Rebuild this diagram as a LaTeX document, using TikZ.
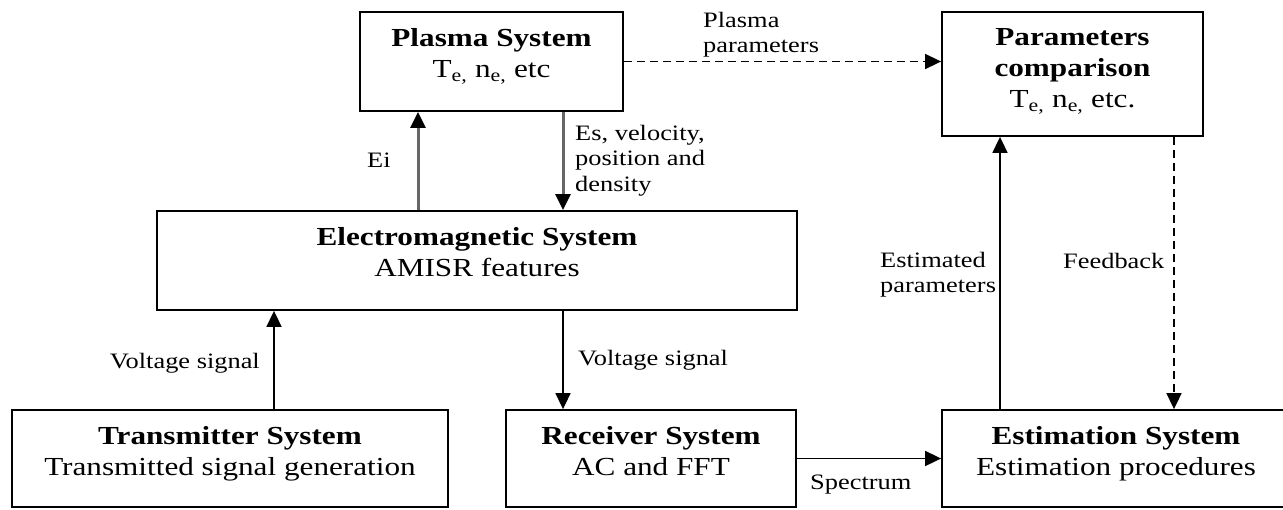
\documentclass[tikz,border=0pt]{standalone}
\usepackage{fontspec}
\setmainfont{Liberation Serif}[FakeStretch=1.2]
\usetikzlibrary{arrows.meta}
\begin{document}
\begin{tikzpicture}[x=1pt,y=-1pt,
  box/.style={draw, line width=1.8pt, inner sep=0pt},
  ttl/.style={anchor=north, align=center, inner sep=0pt, font=\fontsize{26}{31}\selectfont},
  lbl/.style={inner sep=0pt, font=\fontsize{22}{25.5}\selectfont, align=left},
  arr/.style={line width=1.7pt, -{Triangle[length=16pt,width=15pt]}},
  garr/.style={draw=black!60, line width=3pt, -{Triangle[length=16pt,width=15pt,color=black]}},
  dsh/.style={arr, dash pattern=on 8pt off 5pt}]
\fill[white] (0,0) rectangle (1283,509);
\useasboundingbox (0,0) rectangle (1283,509);
% boxes
\node[box, minimum width=263pt, minimum height=99pt] (plasma) at (491.5,61.5) {};
\node[box, minimum width=261pt, minimum height=124pt] (params) at (1072.5,74) {};
\node[box, minimum width=640pt, minimum height=99pt] (em) at (477,260.5) {};
\node[box, minimum width=436pt, minimum height=97pt] (trans) at (230,458.5) {};
\node[box, minimum width=290pt, minimum height=97pt] (recv) at (651,458.5) {};
\node[box, minimum width=348pt, minimum height=97pt] (est) at (1116,458.5) {};
% box texts
\node[ttl] (plasmaT) at ([yshift=-17pt]plasma.north) {\textbf{Plasma System}\\T\textsubscript{e,} n\textsubscript{e,} etc};
\node[ttl] (paramsT) at ([yshift=-17pt]params.north) {\textbf{Parameters}\\\textbf{comparison}\\T\textsubscript{e,} n\textsubscript{e,} etc.};
\node[ttl] (emT) at ([yshift=-17pt]em.north) {\textbf{Electromagnetic System}\\AMISR features};
\node[ttl] (transT) at ([yshift=-17pt]trans.north) {\textbf{Transmitter System}\\Transmitted signal generation};
\node[ttl] (recvT) at ([yshift=-17pt]recv.north) {\textbf{Receiver System}\\AC and FFT};
\node[ttl] (estT) at ([yshift=-17pt]est.north) {\textbf{Estimation System}\\Estimation procedures};
% connectors
\draw[garr] (418,0 |- em.north) -- (418,0 |- plasma.south);
\draw[garr] (563,0 |- plasma.south) -- (563,0 |- em.north);
\draw[dsh] (plasma.east) -- (plasma.east -| params.west);
\draw[arr] (274,0 |- trans.north) -- (274,0 |- em.south);
\draw[arr] (563,0 |- em.south) -- (563,0 |- recv.north);
\draw[arr] (recv.east) -- (est.west);
\draw[arr] (1000,0 |- est.north) -- (1000,0 |- params.south);
\draw[dsh] (1174,0 |- params.south) -- (1174,0 |- est.north);
% labels
\node[lbl, anchor=north west] (lPP) at (703,12) {Plasma\\parameters};
\node[lbl, anchor=north west] (lEs) at (575,125) {Es, velocity,\\position and\\density};
\node[lbl, anchor=base west] (lEi) at (367,167) {Ei};
\node[lbl, anchor=base east] (lV1) at (260,368) {Voltage signal};
\node[lbl, anchor=base west] (lV2) at (578,365) {Voltage signal};
\node[lbl, anchor=base west] (lSp) at (810,489) {Spectrum};
\node[lbl, anchor=north west] (lEP) at (880,252) {Estimated\\parameters};
\node[lbl, anchor=base west] (lFb) at (1063,268) {Feedback};
\end{tikzpicture}
\end{document}
